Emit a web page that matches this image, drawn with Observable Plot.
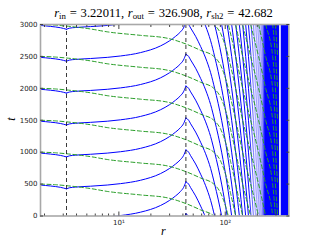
<!DOCTYPE html>
<html><head><meta charset="utf-8">
<script src="https://cdn.jsdelivr.net/npm/d3@7"></script>
<script src="https://cdn.jsdelivr.net/npm/@observablehq/plot@0.6"></script>
<style>
body{margin:0;background:#fff;}
#wrap{position:relative;width:320px;height:240px;overflow:hidden;}
#title{position:absolute;left:0;width:327px;top:7px;text-align:center;font-family:"Liberation Serif",serif;font-size:12.6px;line-height:13px;white-space:nowrap;color:#000;}
#title sub{font-size:8.8px;vertical-align:-2px;line-height:0;}
#title .eq{margin:0 3.8px;}
#title .cm{margin-right:3.6px;}
.lbl{position:absolute;font-family:"Liberation Serif",serif;font-style:italic;font-size:12px;line-height:12px;color:#000;}
</style></head><body>
<div id="wrap"><div id="chart"></div>
<div id="title"><i>r</i><sub>in</sub><span class="eq">=</span>3.22011<span class="cm">,</span><i>r</i><sub>out</sub><span class="eq">=</span>326.908<span class="cm">,</span><i>r</i><sub>sh2</sub><span class="eq">=</span>42.682</div>
<div class="lbl" style="left:161px;top:225px">r</div>
<div class="lbl" style="left:9px;top:113px;transform:rotate(-90deg)">t</div>
</div>
<script>
// special radii
const rIn = 3.22011, rOut = 326.908, rSh2 = 42.682;
const xDomain = [1.834, 395.8];
const yDomain = [0, 3000];
const yTicks = [0, 500, 1000, 1500, 2000, 2500, 3000];
const xMajor = [10, 100];
const xMajorLabels = ["10\u00b9", "10\u00b2"];
const xMinor = [2, 3, 4, 5, 6, 7, 8, 9, 20, 30, 40, 50, 60, 70, 80, 90, 200, 300];

// blue curves: value of each curve at the left edge
const blueStarts = [-515, -15, 485, 985, 1485, 1985, 2485, 2985, 3485, 3985, 4485, 4985, 5485, 5985, 6485, 6985, 7485, 7985, 8485, 8985, 9485, 9985, 10485, 10985, 11485, 11985, 12485];
// segment left of r_in (t relative to start)
const blueLeftR = [1.834, 2.278, 2.829, 3.22011];
const blueLeftT = [0, -15, -36, -60];
// segment r_in .. r_sh2 (t relative to start)
const blueMidR = [3.22011, 3.45, 3.914, 5.418, 7.781, 10.37, 16.0, 24.68, 30, 34.16, 38, 40.5, 42.682];
const blueMidT = [-60, -42, -32, -18, 0, 22, 75, 180, 260, 330, 400, 460, 550];
// segment right of r_sh2 (drop below the peak)
const blueRightR = [42.682, 45.27, 47.27, 52.67, 58.70, 65.40, 72.88, 79.47, 92.5, 104.2, 114.9, 125.3, 135.7, 145.8, 155.6, 165.3, 174.9, 184.2, 193.2, 201.8, 210.2, 218.2, 225.8, 233.3, 239.9];
const blueRightDrop = [0, 35, 90, 220, 380, 560, 790, 1035, 1535, 2035, 2535, 3035, 3535, 4035, 4535, 5035, 5535, 6035, 6535, 7035, 7535, 8035, 8535, 9035, 9535];

// green dashed curves: value at left edge, and drop along r
const greenStarts = [0, 500, 1000, 1500, 2000, 2500, 3000, 3500, 4000, 4500, 5000, 5500, 6000, 6500, 7000, 7500, 8000, 8500];
const greenR = [1.834, 2.54, 3.22011, 5.418, 7.781, 16.0, 28.5, 42.682, 58.7, 78, 90.5, 100.9, 112.4, 125.3, 145.8, 173.4, 205.7, 239.9, 279.2, 311.2];
const greenDrop = [0, 10, 25, 70, 115, 170, 215, 305, 405, 500, 640, 850, 1150, 1500, 2000, 2500, 3000, 3500, 4000, 5000];

// dense region bounds (r)
const hazeFrom = 168, solidFrom = 238;

const blueRows = [];
blueStarts.forEach((s, k) => {
  blueLeftR.forEach((r, i) => blueRows.push({r, t: s + blueLeftT[i], g: k + "a"}));
  blueMidR.forEach((r, i) => blueRows.push({r, t: s + blueMidT[i], g: k + "b"}));
  const peak = s + blueMidT[blueMidT.length - 1];
  blueRightR.forEach((r, i) => blueRows.push({r, t: peak - blueRightDrop[i], g: k + "c"}));
});
const greenRows = [];
greenStarts.forEach((s, k) => {
  greenR.forEach((r, i) => greenRows.push({r, t: s - greenDrop[i], g: k}));
});

const fills = [
  {a: hazeFrom, b: solidFrom, f: "url(#haze)"},
  {a: solidFrom, b: rOut, f: "#0000ff"},
  {a: rOut, b: xDomain[1], f: "#0000ff"}
];
const labelOf = new Map(xMajor.map((d, i) => [d, xMajorLabels[i]]));

const tickColor = "#444";
const chart = Plot.plot({
  width: 320, height: 240,
  marginTop: 24, marginBottom: 24.5, marginLeft: 40, marginRight: 31.7,
  style: {fontFamily: "DejaVu Sans", fontSize: "7px", color: "#222", background: "white"},
  x: {type: "log", domain: xDomain},
  y: {domain: yDomain},
  marks: [
    Plot.line(blueRows, {x: "r", y: "t", z: "g", stroke: "#0000ff", strokeWidth: 1, curve: "monotone-x", clip: true}),
    Plot.rect(fills, {x1: "a", x2: "b", y1: yDomain[0], y2: yDomain[1], fill: d => d.f}),
    Plot.line(greenRows, {x: "r", y: "t", z: "g", stroke: "#2a9e2a", strokeWidth: 1, strokeDasharray: "4,2.5", curve: "monotone-x", clip: true}),
    Plot.ruleX([rOut], {stroke: "white", strokeWidth: 1.6}),
    Plot.ruleX([rIn, rSh2], {stroke: "#222", strokeWidth: 0.9, strokeDasharray: "4,3"}),
    Plot.frame({stroke: "#a8a8a8", strokeWidth: 1.6}),
    Plot.axisY(yTicks, {tickSize: 0, tickPadding: 3, tickFormat: d3.format("d"), label: null}),
    Plot.axisY(yTicks, {tickSize: 3, dx: 3, text: null, label: null, stroke: tickColor}),
    Plot.axisY(yTicks, {anchor: "right", tickSize: 3, dx: -3, text: null, label: null, stroke: tickColor}),
    Plot.axisX(xMajor, {tickSize: 0, tickPadding: 4, tickFormat: d => labelOf.get(d), label: null}),
    Plot.axisX(xMajor, {tickSize: 4, dy: -4, text: null, label: null, stroke: tickColor}),
    Plot.axisX(xMinor, {tickSize: 2, dy: -2, text: null, label: null, stroke: tickColor}),
    Plot.axisX(xMajor, {anchor: "top", tickSize: 4, dy: 4, text: null, label: null, stroke: tickColor}),
    Plot.axisX(xMinor, {anchor: "top", tickSize: 2, dy: 2, text: null, label: null, stroke: tickColor})
  ]
});
const svg = d3.select(chart);
const defs = svg.insert("defs", ":first-child");
const grad = defs.append("linearGradient").attr("id", "haze").attr("x1", 0).attr("x2", 1).attr("y1", 0).attr("y2", 0);
grad.append("stop").attr("offset", "0%").attr("stop-color", "#ffffff").attr("stop-opacity", 0);
grad.append("stop").attr("offset", "40%").attr("stop-color", "#e6e6ff").attr("stop-opacity", 0.7);
grad.append("stop").attr("offset", "82%").attr("stop-color", "#b0b0ff").attr("stop-opacity", 0.85);
grad.append("stop").attr("offset", "100%").attr("stop-color", "#0000ff").attr("stop-opacity", 1);
document.getElementById("chart").appendChild(chart);
</script>
</body></html>
